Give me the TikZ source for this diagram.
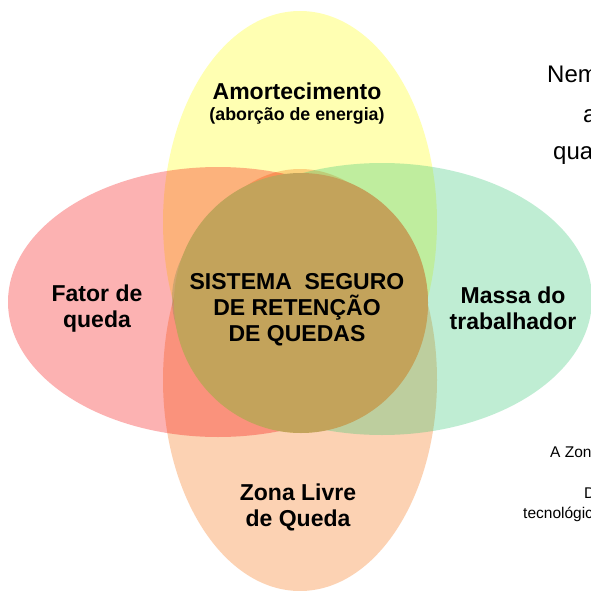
\documentclass[tikz,border=0pt]{standalone}
\usepackage{fontspec}
\setmainfont{Liberation Sans}
\definecolor{cyel}{HTML}{FFFF00}
\definecolor{cred}{HTML}{F80000}
\definecolor{cgrn}{HTML}{2DC670}
\definecolor{corg}{HTML}{F86C05}
\definecolor{ccen}{HTML}{C3A35B}
\begin{document}
\begin{tikzpicture}[x=1pt,y=-1pt,
  petal/.style={fill opacity=0.3, draw=none},
  lbl/.style={font=\bfseries\fontsize{23}{26}\selectfont, align=center, inner sep=0pt, text=black},
  sublbl/.style={font=\bfseries\fontsize{17.8}{21}\selectfont, inner sep=0pt, text=black},
  side/.style={font=\fontsize{24}{28}\selectfont, inner sep=0pt, anchor=base west, text=black},
  sidesm/.style={font=\fontsize{15.5}{18}\selectfont, inner sep=0pt, anchor=base west, text=black}]
\useasboundingbox (0,0) rectangle (591,591);
\clip (0,0) rectangle (591,591);
\fill[white] (0,0) rectangle (591,591);
% ellipses
\path[petal, fill=cyel] (300,222) ellipse [x radius=137, y radius=211];
\path[petal, fill=corg] (300,380) ellipse [x radius=137, y radius=211];
\path[petal, fill=cgrn] (382,299) ellipse [x radius=210, y radius=136];
\path[petal, fill=cred] (218,302) ellipse [x radius=210, y radius=135];
% centre circle
\path[fill=ccen] (301,303) ellipse [x radius=127, y radius=130];
% labels
\node[lbl, anchor=base] (amort) at (297,100) {Amortecimento};
\node[sublbl, anchor=base] (absorb) at (297,121) {(aborção de energia)};
\node[lbl] (fator) at (97,309) {Fator de\\queda};
\node[lbl] (massa) at (513,308) {Massa do\\trabalhador};
\node[lbl] (zona) at (298,507) {Zona Livre\\de Queda};
\node[lbl] (centro) at (297,309.5) {SISTEMA\ \ SEGURO\\DE RETENÇÃO\\DE QUEDAS};
% clipped side text
\node[side] (t1) at (547,83) {Nem};
\node[side] (t2) at (583,122) {a};
\node[side] (t3) at (553,159) {qua};
\node[sidesm] (t4) at (550,457) {A Zon};
\node[sidesm] (t5) at (584,498) {D};
\node[sidesm] (t6) at (523,518) {tecnológic};
\end{tikzpicture}
\end{document}
